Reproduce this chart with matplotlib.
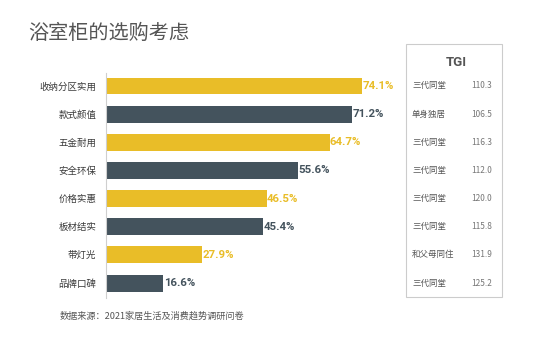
import matplotlib
matplotlib.use("Agg")
import matplotlib.pyplot as plt
import matplotlib.transforms as mtransforms
from matplotlib.patches import Rectangle

plt.rcParams['font.family'] = ['Noto Sans CJK SC', 'DejaVu Sans']

# 浴室柜选购考虑因素
categories = ['收纳分区实用', '款式颜值', '五金耐用', '安全环保', '价格实惠', '板材结实', '带灯光', '品牌口碑']
shares = [74.1, 71.2, 64.7, 55.6, 46.5, 45.4, 27.9, 16.6]
tgi_groups = ['三代同堂', '单身独居', '三代同堂', '三代同堂', '三代同堂', '三代同堂', '和父母同住', '三代同堂']
tgi_values = [110.3, 106.5, 116.3, 112.0, 120.0, 115.8, 131.9, 125.2]

yellow = '#E9BD28'
slate = '#44535D'
colors = [yellow if i % 2 == 0 else slate for i in range(len(categories))]
num_font = ['Roboto', 'DejaVu Sans']

W, H = 536, 344
fig = plt.figure(figsize=(W / 100, H / 100), dpi=100)

def fx(px):
    return px / W

def fy(py):
    return 1 - py / H

# bar area: spine from y=73 to y=298, x from 106
ax = fig.add_axes([fx(106), fy(298), fx(276.4), (298 - 73) / H])
ypos = list(range(len(categories)))
ax.barh(ypos, shares, height=0.6, color=colors)
ax.set_xlim(0, 80)
ax.set_ylim(len(categories) - 0.47, -0.46)
ax.set_yticks(ypos)
ax.set_yticklabels(categories, fontsize=6.8, color='#3a3a3a')
ax.tick_params(axis='y', length=0, pad=7)
ax.set_xticks([])
for s in ['top', 'right', 'bottom']:
    ax.spines[s].set_visible(False)
ax.spines['left'].set_color('#cfcfcf')
ax.spines['left'].set_linewidth(0.8)

for y, v, c in zip(ypos, shares, colors):
    ax.text(v + 0.1, y, f'{v}%', va='center', ha='left', fontsize=8.2,
            fontweight='bold', color=c, family=num_font)

# title
fig.text(fx(28), fy(33), '浴室柜的选购考虑', fontsize=14.5, color='#555555',
         ha='left', va='center')

# TGI panel
fig.patches.append(Rectangle((fx(406), fy(297)), fx(96), (297 - 44) / H,
                             transform=fig.transFigure, fill=False,
                             edgecolor='#cccccc', linewidth=0.8))
fig.text(fx(456), fy(62), 'TGI', fontsize=9.5, fontweight='bold', color='#555555',
         ha='center', va='center', family=num_font)
trans = mtransforms.blended_transform_factory(fig.transFigure, ax.transData)
for y, g, v in zip(ypos, tgi_groups, tgi_values):
    ax.text(fx(412), y, g, transform=trans, fontsize=6.1, color='#555555',
            ha='left', va='center', clip_on=False)
    ax.text(fx(492), y, f'{v:.1f}', transform=trans, fontsize=6, color='#777777',
            ha='right', va='center', clip_on=False)

# source note
fig.text(fx(60), fy(316), '数据来源：2021家居生活及消费趋势调研问卷', fontsize=6.6,
         color='#555555', ha='left', va='center')

fig.savefig('out.png', dpi=100, facecolor='white')
